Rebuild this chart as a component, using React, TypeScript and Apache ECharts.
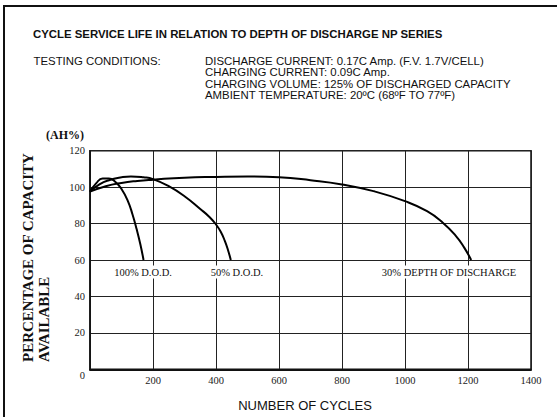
import React, { useEffect, useRef } from 'react';
import * as echarts from 'echarts';

// Axis ticks
const xTicks = [0, 200, 400, 600, 800, 1000, 1200, 1400];
const yTicks = [0, 20, 40, 60, 80, 100, 120];

// Curves: [number of cycles, capacity %]
const dod100: number[][] = [
  [0, 97.5], [20, 102.2], [40, 104.8], [60, 104.8], [80, 103], [100, 99],
  [120, 92.5], [135, 85], [148, 77], [160, 68.5], [170, 60],
];
const dod50: number[][] = [
  [0, 97.5], [30, 101.5], [60, 103.8], [100, 105.4], [130, 105.9], [170, 105.4],
  [200, 104.4], [250, 100.5], [300, 95], [350, 88], [380, 83.5], [400, 79.5],
  [415, 75.5], [428, 70.5], [438, 65.5], [447, 60],
];
const dod30: number[][] = [
  [0, 97.5], [50, 100.5], [100, 102.3], [150, 103.4], [200, 104.1], [300, 105.2],
  [400, 105.6], [500, 105.8], [600, 105.4], [700, 103.8], [800, 101.5], [900, 97.8],
  [1000, 92.3], [1070, 86.8], [1120, 80.5], [1160, 73.5], [1188, 66.8], [1210, 60],
];

const curveLabels = ['100% D.O.D.', '50% D.O.D.', '30% DEPTH OF DISCHARGE'];
const titleText = 'CYCLE SERVICE LIFE IN RELATION TO DEPTH OF DISCHARGE NP SERIES';
const condLabel = 'TESTING CONDITIONS:';
const conditions = [
  'DISCHARGE CURRENT: 0.17C Amp. (F.V. 1.7V/CELL)',
  'CHARGING CURRENT: 0.09C Amp.',
  'CHARGING VOLUME: 125% OF DISCHARGED CAPACITY',
  'AMBIENT TEMPERATURE: 20\u00BAC (68\u00BAF TO 77\u00BAF)',
];
const yName1 = 'PERCENTAGE OF CAPACITY';
const yName2 = 'AVAILABLE';
const yUnit = '(AH%)';
const xName = 'NUMBER OF CYCLES';

const SANS = '"Liberation Sans", Arial, sans-serif';
const SERIF = '"Liberation Serif", "Times New Roman", serif';

export default function App() {
  const ref = useRef<HTMLDivElement>(null);
  useEffect(() => {
    if (!ref.current) return;
    const chart = echarts.init(ref.current, null, { renderer: 'svg' });
    const lineStyle = { color: '#000', width: 2 };
    const mkSeries = (data: number[][]) => ({
      type: 'line',
      data,
      smooth: 0.5,
      symbol: 'none',
      lineStyle,
      z: 5,
    });
    const labelPos: number[][] = [[143, 272], [237, 272], [449, 272]];
    chart.setOption({
      animation: false,
      backgroundColor: '#fff',
      grid: {
        left: 90, right: 26, top: 150.7, bottom: 47.7,
        show: true, borderColor: '#111', borderWidth: 1.5,
      },
      xAxis: {
        type: 'value', min: xTicks[0], max: xTicks[xTicks.length - 1], interval: 200,
        axisLine: { show: true, lineStyle: { color: '#111', width: 2 } },
        axisTick: { show: false },
        splitLine: { show: true, lineStyle: { color: '#222', width: 1 } },
        axisLabel: {
          fontFamily: SERIF, fontSize: 10.5, color: '#222', margin: 6,
          formatter: (v: number) => (v === 0 ? '' : String(v)),
        },
      },
      yAxis: {
        type: 'value', min: yTicks[0], max: yTicks[yTicks.length - 1], interval: 20,
        axisLine: { show: true, lineStyle: { color: '#111', width: 1.5 } },
        axisTick: { show: false },
        splitLine: { show: true, lineStyle: { color: '#222', width: 1 } },
        axisLabel: {
          fontFamily: SERIF, fontSize: 10.5, color: '#222', margin: 5,
          formatter: (v: number) => (v === 0 ? '' : String(v)),
        },
      },
      series: [mkSeries(dod100), mkSeries(dod50), mkSeries(dod30)],
      graphic: [
        {
          type: 'rect', shape: { x: 4, y: 6, width: 700, height: 600 },
          style: { fill: 'none', stroke: '#111', lineWidth: 2 }, silent: true,
        },
        {
          type: 'text', x: 33, y: 33.7,
          style: { text: titleText, font: `bold 11.4px ${SANS}`, fill: '#111', verticalAlign: 'middle' },
        },
        {
          type: 'text', x: 33.5, y: 60.5,
          style: { text: condLabel, font: `11.4px ${SANS}`, fill: '#111', verticalAlign: 'middle' },
        },
        ...conditions.map((t, i) => ({
          type: 'text', x: 205, y: 60.5 + i * 11.6,
          style: { text: t, font: `11.4px ${SANS}`, fill: '#111', verticalAlign: 'middle' },
        })),
        {
          type: 'text', x: 65, y: 134.5,
          style: { text: yUnit, font: `bold 12px ${SERIF}`, fill: '#111', align: 'center', verticalAlign: 'middle' },
        },
        {
          type: 'text', x: 28, y: 362, rotation: Math.PI / 2,
          style: { text: yName1, font: `bold 15px ${SERIF}`, fill: '#111', align: 'left', verticalAlign: 'middle' },
        },
        {
          type: 'text', x: 43.5, y: 362, rotation: Math.PI / 2,
          style: { text: yName2, font: `bold 15px ${SERIF}`, fill: '#111', align: 'left', verticalAlign: 'middle' },
        },
        {
          type: 'text', x: 85, y: 375.5,
          style: { text: '0', font: `10.5px ${SERIF}`, fill: '#222', align: 'right', verticalAlign: 'middle' },
        },
        {
          type: 'text', x: 305, y: 405,
          style: { text: xName, font: `13px ${SANS}`, fill: '#111', align: 'center', verticalAlign: 'middle' },
        },
        ...curveLabels.map((t, i) => ({
          type: 'text', x: labelPos[i][0], y: labelPos[i][1], z: 10,
          style: {
            text: t, font: `10.5px ${SERIF}`, fill: '#111', align: 'center', verticalAlign: 'middle',
            backgroundColor: '#fff', padding: [1, 2],
          },
        })),
      ],
    });
    return () => chart.dispose();
  }, []);
  return (
    <div
      ref={ref}
      style={{ position: 'fixed', left: 0, top: 0, width: 557, height: 417, background: '#fff' }}
    />
  );
}
